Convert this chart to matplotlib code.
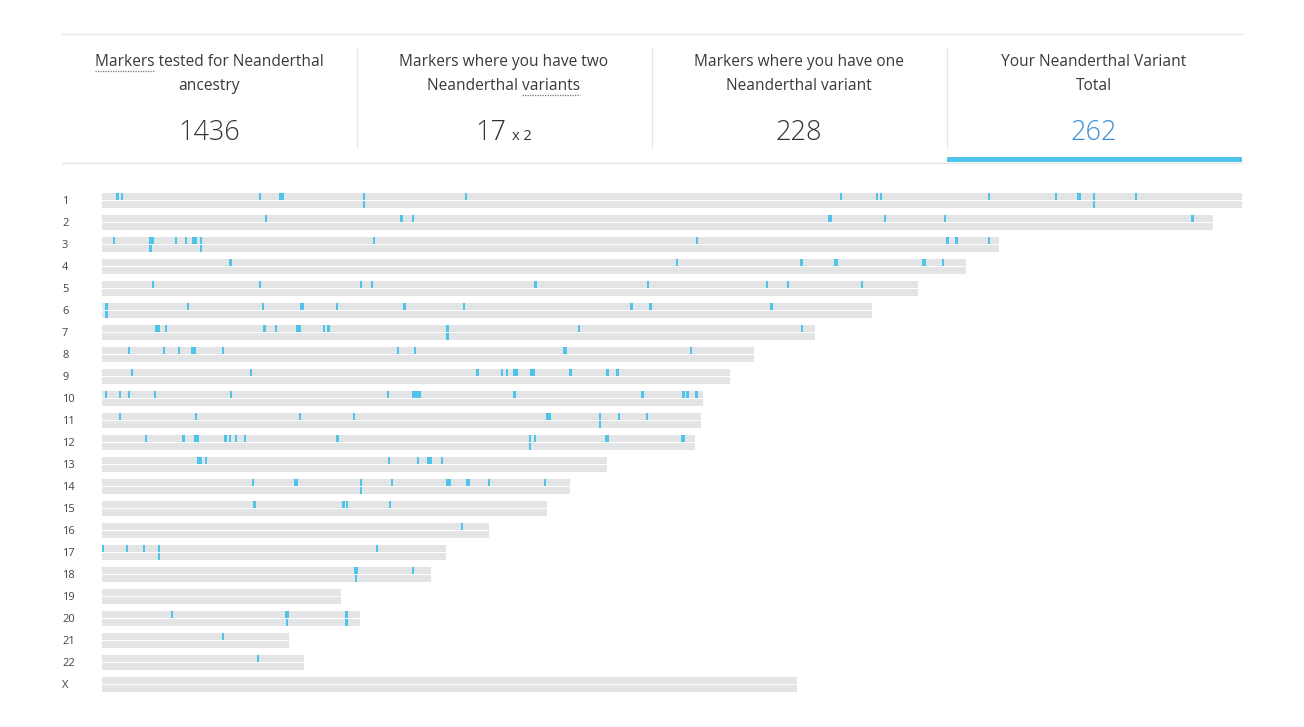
import matplotlib
matplotlib.use("Agg")
import matplotlib.pyplot as plt
from matplotlib.lines import Line2D
from matplotlib.patches import Rectangle
from matplotlib.transforms import blended_transform_factory

# ---------------- data ----------------
chrom_names = ["1", "2", "3", "4", "5", "6", "7", "8", "9", "10", "11", "12",
               "13", "14", "15", "16", "17", "18", "19", "20", "21", "22", "X"]
# displayed length of each chromosome (Mb)
chrom_len = [249.25, 242.9, 196.1, 188.85, 178.4, 168.36, 155.88, 142.54, 137.3,
             131.4, 130.96, 129.65, 110.41, 102.32, 97.29, 84.61, 75.14, 71.86,
             52.25, 56.41, 40.88, 44.16, 151.95]

# Neanderthal variant positions (Mb) on the first copy of each chromosome
copy_a = {
    "1": [3.43, 4.44, 34.48, 39.0, 39.5, 57.24, 79.58, 161.54, 169.48, 170.35,
          193.88, 208.57, 213.5, 213.8, 216.88, 226.02],
    "2": [35.81, 65.52, 67.95, 158.95, 159.45, 171.14, 184.28, 238.39],
    "3": [2.69, 10.63, 11.1, 16.16, 18.34, 19.95, 20.45, 21.60, 59.42, 130.15,
          184.87, 186.86, 193.88],
    "4": [28.12, 125.67, 152.97, 160.25, 160.75, 179.45, 179.8, 183.84],
    "5": [11.15, 34.48, 56.58, 59.01, 94.82, 119.33, 145.37, 149.96, 166.11],
    "6": [1.01, 18.76, 35.16, 43.45, 43.95, 51.38, 66.11, 79.16, 115.81, 119.96, 146.41],
    "7": [11.85, 12.35, 13.93, 35.57, 38.04, 42.75, 43.25, 48.54, 49.56, 75.58,
          104.28, 153.04],
    "8": [5.90, 13.55, 16.83, 19.7, 20.2, 26.45, 64.71, 68.43, 101.1, 101.45, 128.84],
    "9": [6.56, 32.51, 82.14, 87.39, 88.54, 90.1, 90.6, 93.9, 94.4, 102.47,
          110.56, 112.75],
    "10": [0.81, 3.94, 5.90, 11.59, 28.20, 62.59, 67.95, 68.45, 68.95, 69.45,
           90.23, 118.21, 127.18, 128.05, 130.02],
    "11": [3.87, 20.62, 43.29, 55.03, 97.25, 97.75, 97.95, 108.88, 113.03, 119.15],
    "12": [9.62, 17.86, 20.27, 20.92, 27.04, 27.98, 29.23, 31.20, 51.53, 93.57,
           94.67, 110.2, 110.6, 126.8, 127.2],
    "13": [21.05, 21.5, 22.74, 62.75, 69.09, 71.35, 71.8, 74.33],
    "14": [33.01, 42.2, 42.65, 56.62, 63.40, 75.55, 76.0, 79.85, 80.3, 84.61, 96.85],
    "15": [33.38, 52.8, 53.55, 62.96],
    "16": [78.71],
    "17": [0.15, 5.47, 9.18, 12.40, 60.12],
    "18": [55.45, 55.75, 68.06],
    "19": [],
    "20": [15.30, 40.35, 40.65, 53.3, 53.6],
    "21": [26.39],
    "22": [34.11],
    "X": [],
}
# positions (Mb) where the second copy also carries the variant (two variants)
copy_b = {
    "1": [57.24, 216.88],
    "3": [10.63, 21.60],
    "6": [1.01],
    "7": [75.58],
    "11": [108.88],
    "12": [93.57],
    "14": [56.62],
    "17": [12.40],
    "18": [55.60],
    "20": [40.51, 53.45],
}

stat_titles = [["Markers tested for Neanderthal", "ancestry"],
               ["Markers where you have two", "Neanderthal variants"],
               ["Markers where you have one", "Neanderthal variant"],
               ["Your Neanderthal Variant", "Total"]]
stat_values = ["1436", "17", "228", "262"]

# ---------------- style ----------------
W, H = 1304, 727
FONT = ["Open Sans", "DejaVu Sans"]
BAR_GREY = "#e3e4e5"
MARK = "#4ec4ea"
TXT = "#333333"
LINE_GREY = "#e6e6e6"
BLUE_NUM = "#3b8fd8"

fig = plt.figure(figsize=(W / 100, H / 100), dpi=100)
fig.patch.set_facecolor("white")


def fx(px):
    return px / W


def fy(py):
    return 1 - py / H


# ---------------- header ----------------
fig.add_artist(Line2D([fx(62), fx(1242)], [fy(33.5), fy(33.5)], color=LINE_GREY, lw=1))
fig.add_artist(Line2D([fx(62), fx(1242)], [fy(162.5), fy(162.5)], color=LINE_GREY, lw=1))
for xd in [356.5, 651.5, 946.5]:
    fig.add_artist(Line2D([fx(xd), fx(xd)], [fy(48), fy(147)], color=LINE_GREY, lw=1))
fig.add_artist(Rectangle((fx(947), fy(162)), fx(1242) - fx(947), 5 / H,
                         transform=fig.transFigure, color=MARK, lw=0))

col_centers = [209, 503.5, 798.5, 1094]
fig.canvas.draw()
renderer = fig.canvas.get_renderer()


def text_width(s, size):
    t = fig.text(0, 0, s, fontsize=size, family=FONT)
    w = t.get_window_extent(renderer).width
    t.remove()
    return w


TSIZE = 11.2
title_texts = []
for cx, lines in zip(col_centers, stat_titles):
    row = []
    for k, ln in enumerate(lines):
        t = fig.text(fx(cx), fy(66 + 24 * k), ln, ha="center", va="baseline",
                     fontsize=TSIZE, family=FONT, color="#3a3a3a")
        row.append(t)
    title_texts.append(row)

fig.canvas.draw()
# dotted underline under "Markers" (col 1, line 1) and "variants" (col 2, line 2)
bb = title_texts[0][0].get_window_extent(renderer)
wm = text_width("Markers", TSIZE)
fig.add_artist(Line2D([bb.x0 / W, (bb.x0 + wm) / W], [fy(71), fy(71)],
                      color="#777777", lw=0.9, ls=(0, (1, 1))))
bb2 = title_texts[1][1].get_window_extent(renderer)
wv = text_width("variants", TSIZE)
fig.add_artist(Line2D([(bb2.x1 - wv) / W, bb2.x1 / W], [fy(95), fy(95)],
                      color="#777777", lw=0.9, ls=(0, (1, 1))))

NSIZE = 19.5
for i, (cx, val) in enumerate(zip(col_centers, stat_values)):
    color = BLUE_NUM if i == 3 else TXT
    if i == 1:
        fig.text(fx(506), fy(140), val, ha="right", va="baseline", fontsize=NSIZE,
                 family=FONT, color=color, fontweight="light")
        fig.text(fx(512), fy(140), "x 2", ha="left", va="baseline", fontsize=10.5,
                 family=FONT, color=color)
    else:
        fig.text(fx(cx), fy(140), val, ha="center", va="baseline", fontsize=NSIZE,
                 family=FONT, color=color, fontweight="light")

# ---------------- chromosome plot ----------------
n = len(chrom_names)
ax = fig.add_axes([fx(102), fy(189 + 22 * n), 1140 / W, 22 * n / H])
ax.set_xlim(0, chrom_len[0])
ax.set_ylim(n - 0.5, -0.5)
ax.axis("off")

BAR_H = 7 / 22
MW = 0.52
for i, name in enumerate(chrom_names):
    L = chrom_len[i]
    top_bottom = i - 7 / 22
    low_bottom = i + 1 / 22
    ax.barh(i - 3.5 / 22, L, height=BAR_H, left=0, color=BAR_GREY, lw=0)
    ax.barh(i + 4.5 / 22, L, height=BAR_H, left=0, color=BAR_GREY, lw=0)
    pa = copy_a.get(name, [])
    if pa:
        ax.bar(pa, BAR_H, width=MW, bottom=top_bottom, color=MARK, lw=0)
    pb = copy_b.get(name, [])
    if pb:
        ax.bar(pb, BAR_H, width=MW, bottom=low_bottom, color=MARK, lw=0)

trans = blended_transform_factory(fig.transFigure, ax.transData)
for i, name in enumerate(chrom_names):
    ax.text(fx(62), i + 1.2 / 22, name, transform=trans, ha="left", va="center",
            fontsize=8, family=FONT, color="#444444")

fig.savefig("out.png", dpi=100, facecolor="white")
